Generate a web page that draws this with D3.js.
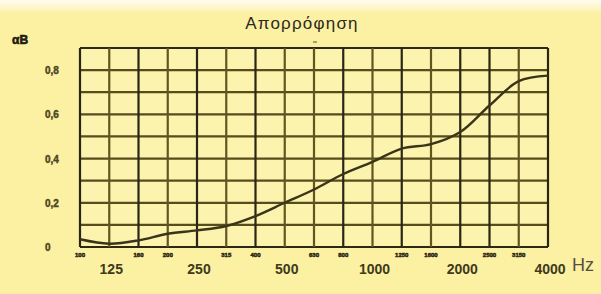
<!DOCTYPE html>
<html>
<head>
<meta charset="utf-8">
<script src="https://d3js.org/d3.v7.min.js"></script>
<style>
  body { margin: 0; background: #fcf0a2; }
  svg { display: block; }
</style>
</head>
<body>
<svg width="601" height="294"></svg>
<script>
// third-octave bands and absorption
const bands = ["100","125","160","200","250","315","400","500","630","800","1000","1250","1600","2000","2500","3150","4000"];
const absorption = [0.035,0.015,0.03,0.06,0.075,0.095,0.14,0.2,0.26,0.33,0.385,0.445,0.465,0.52,0.64,0.75,0.775];
const bigLabels = ["125","250","500","1000","2000","4000"];
const smallLabels = ["100","160","200","315","400","630","800","1250","1600","2500","3150"];
const yTicks = [0,0.2,0.4,0.6,0.8];
const yGrid = [0,0.1,0.2,0.3,0.4,0.5,0.6,0.7,0.8,0.9];
const darkBands = ["100","160","250","400","800","1250","2000","2500","4000"];

const svg = d3.select("svg");
const width = 601, height = 294;
const margin = { left: 80, right: 53, top: 48, bottom: 47 };

const defs = svg.append("defs");
const grad = defs.append("linearGradient").attr("id","topfade").attr("x1",0).attr("x2",0).attr("y1",0).attr("y2",1);
grad.append("stop").attr("offset","0%").attr("stop-color","#fefcf4");
grad.append("stop").attr("offset","100%").attr("stop-color","#fcf0a2");

svg.append("rect").attr("width",width).attr("height",height).attr("fill","#fcf0a2");
svg.append("rect").attr("width",width).attr("height",14).attr("fill","url(#topfade)");

const x = d3.scalePoint().domain(bands).range([margin.left, width - margin.right]);
const y = d3.scaleLinear().domain([0, 0.9]).range([height - margin.bottom, margin.top]);

// plot background
svg.append("rect")
  .attr("x", x.range()[0]).attr("y", y(0.9))
  .attr("width", x.range()[1] - x.range()[0])
  .attr("height", y(0) - y(0.9))
  .attr("fill", "#fbf3ae");

// horizontal grid
svg.append("g").selectAll("line").data(yGrid).join("line")
  .attr("x1", x.range()[0]).attr("x2", x.range()[1])
  .attr("y1", d => y(d)).attr("y2", d => y(d))
  .attr("stroke", d => (d === 0 || d === 0.9) ? "#2e2912" : "#564c1c")
  .attr("stroke-width", 2.2);

// vertical grid
svg.append("g").selectAll("line").data(bands).join("line")
  .attr("x1", d => x(d)).attr("x2", d => x(d))
  .attr("y1", y(0.9)).attr("y2", y(0))
  .attr("stroke", d => darkBands.includes(d) ? "#2a2514" : "#625620")
  .attr("stroke-width", 2.2);

// curve
const line = d3.line()
  .x((d, i) => x(bands[i]))
  .y(d => y(d))
  .curve(d3.curveCatmullRom.alpha(0.5));

svg.append("path")
  .datum(absorption)
  .attr("d", line)
  .attr("fill", "none")
  .attr("stroke", "#3a3418")
  .attr("stroke-width", 2.4);

// y tick labels
svg.append("g").selectAll("text").data(yTicks).join("text")
  .attr("x", 45).attr("y", d => y(d) + 4)
  .attr("font-family", "Liberation Sans, Arial, sans-serif")
  .attr("font-weight", "bold")
  .attr("font-size", 10)
  .attr("fill", "#4a4520")
  .attr("stroke", "#4a4520").attr("stroke-width", 0.4)
  .text(d => d === 0 ? "0" : d3.format(".1f")(d).replace(".", ","));

// small band labels
svg.append("g").selectAll("text").data(smallLabels).join("text")
  .attr("x", d => x(d)).attr("y", 257)
  .attr("text-anchor", "middle")
  .attr("font-family", "Liberation Sans, Arial, sans-serif")
  .attr("font-weight", "bold")
  .attr("font-size", 6)
  .attr("fill", "#2e2a14")
  .attr("stroke", "#2e2a14").attr("stroke-width", 0.5)
  .text(d => d);

// big band labels
svg.append("g").selectAll("text").data(bigLabels).join("text")
  .attr("x", d => x(d) + 2).attr("y", 274)
  .attr("text-anchor", "middle")
  .attr("font-family", "Liberation Sans, Arial, sans-serif")
  .attr("font-weight", "bold")
  .attr("font-size", 14)
  .attr("fill", "#3e3a1c")
  .text(d => d);

svg.append("text")
  .attr("x", 572).attr("y", 271)
  .attr("font-family", "Liberation Sans, Arial, sans-serif")
  .attr("font-size", 18)
  .attr("fill", "#555046")
  .text("Hz");

// unit label
svg.append("text")
  .attr("x", 12).attr("y", 44)
  .attr("font-family", "Liberation Sans, Arial, sans-serif")
  .attr("font-weight", "bold")
  .attr("font-size", 12)
  .attr("fill", "#1e1c10")
  .attr("stroke", "#1e1c10").attr("stroke-width", 0.6)
  .text("αB");

// title
svg.append("text")
  .attr("x", 302).attr("y", 29)
  .attr("text-anchor", "middle")
  .attr("font-family", "Liberation Sans, Arial, sans-serif")
  .attr("font-size", 17)
  .attr("letter-spacing", 1.2)
  .attr("fill", "#2a2820")
  .text("Απορρόφηση");

svg.append("line")
  .attr("x1", 313).attr("x2", 317).attr("y1", 42).attr("y2", 42)
  .attr("stroke", "#555046").attr("stroke-width", 1);
</script>
</body>
</html>
